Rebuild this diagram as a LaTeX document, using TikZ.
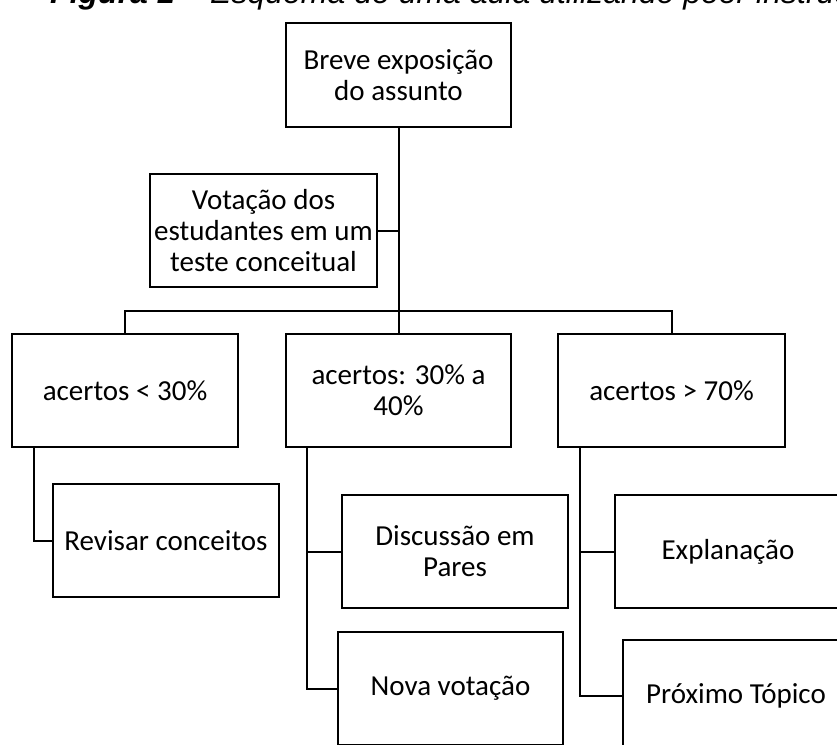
\documentclass[tikz,border=0pt]{standalone}
\usepackage{fontspec}
\setmainfont{Carlito}
\newfontfamily\titlefont{Liberation Sans}
\begin{document}
\begin{tikzpicture}[x=1pt,y=-1pt,
  box/.style={draw, line width=2pt, minimum width=226pt, minimum height=113pt,
    align=center, inner sep=0pt, font=\fontsize{29}{31}\selectfont},
  link/.style={line width=2pt}]
\useasboundingbox (0,0) rectangle (837,744);
\clip (0,0) rectangle (837,744);
\fill[white] (0,0) rectangle (837,744);
\node[anchor=base west, inner sep=0pt, font=\titlefont\fontsize{32}{36}\selectfont] (title) at (50,3)
  {\textbf{\textit{Figura 1 –}} \textit{Esquema de uma aula utilizando peer instruction}};
\node[box, minimum width=225pt, minimum height=104pt] (top) at (398.5,75) {Breve exposição\\do assunto};
\node[box, minimum width=227pt] (vote) at (263.5,230.5) {Votação dos\\estudantes em um\\teste conceitual};
\node[box] (b1) at (125,390.5) {acertos < 30\%};
\node[box, minimum width=225pt] (b2) at (398.5,390.5) {acertos: 30\% a\\40\%};
\node[box, minimum width=227pt] (b3) at (671.5,390.5) {acertos > 70\%};
\node[box] (rev) at (166,540.5) {Revisar conceitos};
\node[box] (disc) at (455,551.5) {Discussão em\\Pares};
\node[box, minimum width=225pt] (nova) at (450.5,688.5) {Nova votação};
\node[box] (expl) at (728,551.5) {Explanação};
\node[box] (prox) at (736,696) {Próximo Tópico};
\coordinate (busy) at (0,311);
\draw[link] (top.south) -- (b2.north);
\draw[link] (vote.east) -- (vote.east -| top.south);
\draw[link] (b1.north) -- (b1.north |- busy) -- (b3.north |- busy) -- (b3.north);
\coordinate (s1) at ([xshift=23pt]b1.south west);
\coordinate (s2) at ([xshift=22pt]b2.south west);
\coordinate (s3) at ([xshift=23pt]b3.south west);
\draw[link] (s1) |- (rev.west);
\draw[link] (s2) |- (nova.west);
\draw[link] (disc.west) -- (disc.west -| s2);
\draw[link] (s3) |- (prox.west);
\draw[link] (expl.west) -- (expl.west -| s3);
\end{tikzpicture}
\end{document}
